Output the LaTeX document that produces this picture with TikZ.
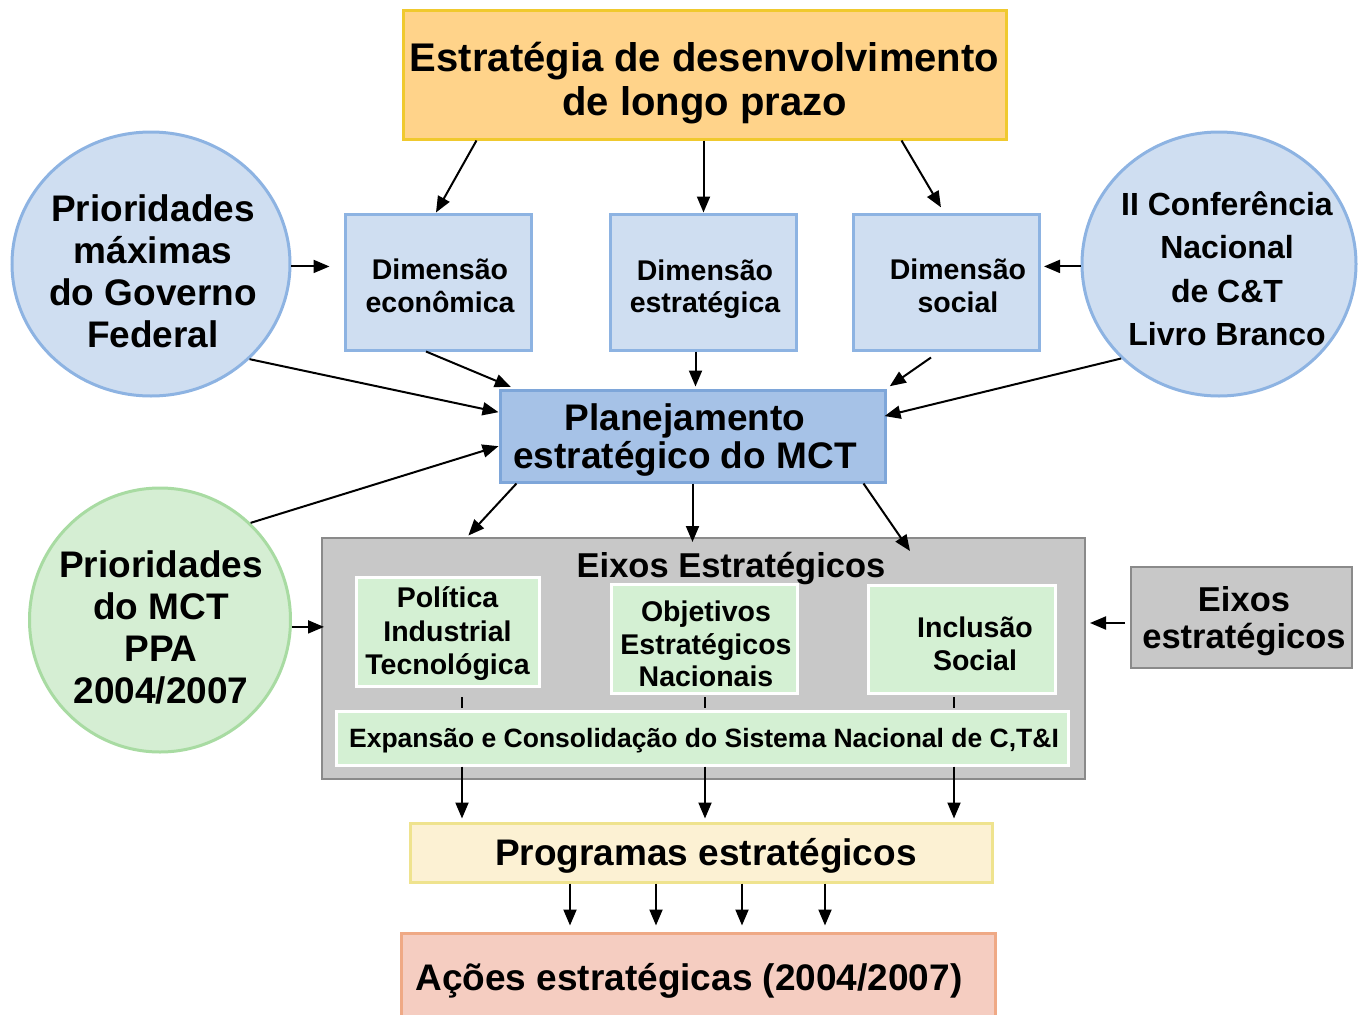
\documentclass[tikz,border=0pt]{standalone}
\usepackage{fontspec}
\setmainfont{Liberation Sans}
\usetikzlibrary{arrows.meta,shapes.geometric}

\definecolor{goldline}{HTML}{F0C92E}
\definecolor{goldfill}{HTML}{FFD38A}
\definecolor{blueline}{HTML}{8DB3E2}
\definecolor{bluefill}{HTML}{CFDEF1}
\definecolor{planline}{HTML}{7EA6D9}
\definecolor{planfill}{HTML}{A6C2E7}
\definecolor{greenline}{HTML}{A8DBA2}
\definecolor{greenfill}{HTML}{D5EED3}
\definecolor{greenbox}{HTML}{D4F0D3}
\definecolor{greyline}{HTML}{8A8A8A}
\definecolor{greyfill}{HTML}{C8C8C8}
\definecolor{progline}{HTML}{EFE38E}
\definecolor{progfill}{HTML}{FCF1D3}
\definecolor{actline}{HTML}{EFA985}
\definecolor{actfill}{HTML}{F5CDC1}

\begin{document}
\begin{tikzpicture}[x=1pt,y=-1pt]
		\tikzstyle{arr}=[line width=2pt,-{Triangle[length=16pt,width=13pt]}]
		\tikzstyle{box}=[line width=3pt, inner sep=0pt]
		\tikzstyle{dim}=[box, draw=blueline, fill=bluefill, minimum width=186pt, minimum height=136pt]
		\tikzstyle{source}=[ellipse, line width=3pt, inner sep=0pt]
		\tikzstyle{eixo}=[box, draw=white, fill=greenbox]
		\tikzstyle{lbl}=[align=center, inner sep=0pt, font=\fontsize{37}{42}\selectfont\bfseries]
		\tikzstyle{small}=[lbl, font=\fontsize{28.5}{32.5}\selectfont\bfseries]

		\useasboundingbox (0,0) rectangle (1361,1015);

		% top level
		\node [box, draw=goldline, fill=goldfill, minimum width=603pt, minimum height=129pt] (top) at (704.5,74.5) {};
		\node [lbl, font=\fontsize{40}{44}\selectfont\bfseries] (toptext) at (704.5,83.5) {Estratégia de desenvolvimento\\de longo prazo};

		\node [dim] (eco) at (438,282) {};
		\node [dim] (est) at (703.5,282) {};
		\node [dim] (soc) at (946.5,282) {};
		\node [small] (ecotext) at (440,286) {Dimensão\\econômica};
		\node [small] (esttext) at (705,289) {Dimensão\\estratégica};
		\node [small] (soctext) at (958,286) {Dimensão\\social};

		\node [source, draw=blueline, fill=bluefill, minimum width=278pt, minimum height=264pt] (gov) at (151,264) {};
		\node [lbl] (govtext) at (153,271.5) {Prioridades\\máximas\\do Governo\\Federal};
		\node [source, draw=blueline, fill=bluefill, minimum width=274pt, minimum height=264pt] (cnf) at (1219,264) {};
		\node [lbl, font=\fontsize{32}{43.5}\selectfont\bfseries] (cnftext) at (1227,268.5) {II Conferência\\Nacional\\de C\&T\\Livro Branco};
		\node [source, draw=greenline, fill=greenfill, minimum width=261pt, minimum height=264pt] (ppa) at (160,620) {};
		\node [lbl] (ppatext) at (161,627) {Prioridades\\do MCT\\PPA\\2004/2007};

		\node [box, draw=planline, fill=planfill, minimum width=385pt, minimum height=92pt] (plan) at (692.5,436) {};
		\node [lbl, font=\fontsize{37}{38}\selectfont\bfseries] (plantext) at (685,440) {Planejamento\\estratégico do MCT};

		% eixos
		\node [box, line width=2pt, draw=greyline, fill=greyfill, minimum width=763pt, minimum height=241pt] (axes) at (703.5,658.5) {};
		\node [lbl, font=\fontsize{34.5}{38}\selectfont\bfseries] (axestitle) at (731,568) {Eixos Estratégicos};
		\node [eixo, minimum width=183pt, minimum height=109pt] (pol) at (447.5,631.5) {};
		\node [eixo, minimum width=186pt, minimum height=109pt] (obj) at (704,638.5) {};
		\node [eixo, minimum width=187pt, minimum height=108pt] (inc) at (961.5,639) {};
		\node [small, font=\fontsize{28.5}{33.5}\selectfont\bfseries] (poltext) at (447.5,634) {Política\\Industrial\\Tecnológica};
		\node [small] (objtext) at (706,644) {Objetivos\\Estratégicos\\Nacionais};
		\node [small] (inctext) at (975,644) {Inclusão\\Social};
		\node [eixo, minimum width=732pt, minimum height=54pt] (bar) at (702,738) {};
		\node [lbl, font=\fontsize{26.5}{30}\selectfont\bfseries] (bartext) at (704,741) {Expansão e Consolidação do Sistema Nacional de C,T\&I};

		\node [box, line width=2pt, draw=greyline, fill=greyfill, minimum width=221pt, minimum height=101pt] (ext) at (1241.5,617.5) {};
		\node [lbl, font=\fontsize{34.5}{37}\selectfont\bfseries] (exttext) at (1244,621) {Eixos\\estratégicos};

		\node [box, draw=progline, fill=progfill, minimum width=582pt, minimum height=59pt] (prog) at (701,852.5) {};
		\node [lbl] (progtext) at (706,856) {Programas estratégicos};
		\node [box, draw=actline, fill=actfill, minimum width=594pt, minimum height=90pt] (act) at (698,978) {};
		\node [lbl] (acttext) at (689,981) {Ações estratégicas (2004/2007)};

		% connectors
		\draw [arr] ([xshift=-228pt]top.south) -- ([xshift=-2pt]eco.north);
		\draw [arr] ([xshift=-1pt]top.south) -- (est.north);
		\draw [arr] ([xshift=197pt]top.south) -- ([xshift=-2.5pt]soc.north) [shorten >=6pt];

		\draw [arr] (gov.-1.7) -- ([xshift=-14pt]eco.west |- gov.-1.7);
		\draw [arr] (cnf.181.7) -- ([xshift=3pt]soc.east |- cnf.181.7);

		\draw [arr] ([xshift=-12pt]eco.south) -- ([xshift=16pt]plan.north west) [shorten >=4pt];
		\draw [arr] ([xshift=-8pt]est.south) -- ([xshift=-8pt]est.south |- plan.north) [shorten >=2pt];
		\draw [arr] ([xshift=-15.5pt,yshift=-6pt]soc.south) -- (plan.north east) [shorten >=4pt];
		\draw [arr] (gov.-44) -- (plan.173);
		\draw [arr] (cnf.224) -- (plan.6) [shorten >=-2pt];
		\draw [arr] (ppa.47) -- (plan.183.4);

		\draw [arr] ([xshift=18pt]plan.south west) -- ([xshift=146pt]axes.north west) [shorten >=2pt];
		\draw [arr] (plan.south) -- (plan.south |- axes.north) [shorten >=-5pt];
		\draw [arr] ([xshift=-23pt]plan.south east) -- ([xshift=206.5pt,yshift=-14pt]axes.north);

		\draw [arr] (ppa.-3) -- (axes.west |- ppa.-3) [shorten >=-3pt];
		\draw [arr] ([yshift=-5.5pt]ext.west) -- ([yshift=-5.5pt]axes.east |- ext.west) [shorten <=5pt, shorten >=4pt];

		\foreach \dx in {-240,3,252} {
			\draw [line width=1.5pt] ([xshift=\dx pt,yshift=2pt]bar.north) -- ++(0,-11);
			\draw [arr] ([xshift=\dx pt]bar.south) -- ([xshift=\dx pt]bar.south |- prog.north) [shorten >=3pt];
		}
		\foreach \dx in {-131,-45,41,124}
			\draw [arr] ([xshift=\dx pt]prog.south) -- ([xshift=\dx pt]prog.south |- act.north) [shorten >=6pt];

	\end{tikzpicture}
\end{document}
